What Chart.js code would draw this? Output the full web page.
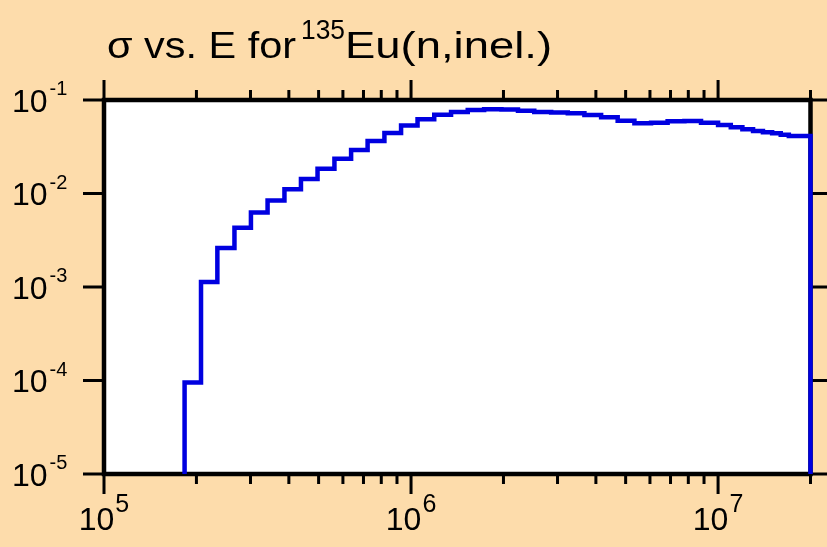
<!DOCTYPE html>
<html><head><meta charset="utf-8">
<script src="https://cdn.jsdelivr.net/npm/chart.js@4/dist/chart.umd.min.js"></script>
<style>
html,body{margin:0;padding:0;background:#fddcab;}
#wrap{width:827px;height:547px;position:relative;}
</style>
</head><body>
<div id="wrap"><canvas id="c" width="827" height="547"></canvas></div>
<script>
// ---- data ----
const energyEdges = [1.83e5, 2.07e5, 2.34e5, 2.66e5, 3.01e5, 3.41e5, 3.87e5, 4.38e5, 4.96e5, 5.63e5,
  6.38e5, 7.22e5, 8.19e5, 9.28e5, 1.05e6, 1.19e6, 1.35e6, 1.53e6, 1.73e6, 1.97e6,
  2.23e6, 2.52e6, 2.86e6, 3.24e6, 3.67e6, 4.16e6, 4.71e6, 5.34e6, 6.05e6, 6.85e6,
  7.77e6, 8.80e6, 1.0e7, 1.1e7, 1.2e7, 1.3e7, 1.4e7, 1.5e7, 1.6e7, 1.7e7, 2.0e7];
const crossSection = [9.5e-5, 1.13e-3, 2.62e-3, 4.29e-3, 6.27e-3, 8.44e-3, 1.11e-2, 1.43e-2, 1.84e-2, 2.35e-2,
  2.92e-2, 3.64e-2, 4.43e-2, 5.33e-2, 6.21e-2, 6.96e-2, 7.44e-2, 7.81e-2, 7.95e-2, 7.89e-2,
  7.66e-2, 7.44e-2, 7.36e-2, 7.20e-2, 6.91e-2, 6.53e-2, 6.00e-2, 5.63e-2, 5.71e-2, 5.91e-2,
  5.96e-2, 5.71e-2, 5.40e-2, 5.10e-2, 4.86e-2, 4.66e-2, 4.51e-2, 4.40e-2, 4.25e-2, 4.12e-2];
const xRange = [1e5, 2e7];
const yRange = [1e-5, 1e-1];
const xMajorTicks = [1e5, 1e6, 1e7];
const xMajorExponents = ['5', '6', '7'];
const xMinorTicks = [2e5, 3e5, 4e5, 5e5, 6e5, 7e5, 8e5, 9e5, 2e6, 3e6, 4e6, 5e6, 6e6, 7e6, 8e6, 9e6, 2e7];
const yMajorTicks = [1e-1, 1e-2, 1e-3, 1e-4, 1e-5];
const yMajorExponents = ['-1', '-2', '-3', '-4', '-5'];
const titleMain = 'σ vs. E for';
const titleSup = '135';
const titleRest = 'Eu(n,inel.)';

// ---- build step points ----
const points = [{x: energyEdges[0], y: yRange[0]}];
for (let i = 0; i < crossSection.length; i++) points.push({x: energyEdges[i], y: crossSection[i]});
points.push({x: energyEdges[energyEdges.length - 1], y: yRange[0]});

const BG = '#fddcab';
const FONT = '"Liberation Sans", Arial, Helvetica, sans-serif';

function fitText(ctx, text, x, y, font, width) {
  ctx.font = font;
  const w = ctx.measureText(text).width;
  ctx.save();
  ctx.translate(x, y);
  ctx.scale(width / w, 1);
  ctx.fillText(text, 0, 0);
  ctx.restore();
}

const decor = {
  id: 'decor',
  beforeDraw(chart) {
    const {ctx, chartArea: a} = chart;
    ctx.save();
    ctx.fillStyle = BG;
    ctx.fillRect(0, 0, chart.width, chart.height);
    ctx.fillStyle = '#ffffff';
    ctx.fillRect(a.left, a.top, a.right - a.left, a.bottom - a.top);
    ctx.restore();
  },
  beforeDatasetsDraw(chart) {
    const {ctx, chartArea: a, scales: {x, y}} = chart;
    ctx.save();
    ctx.strokeStyle = '#000';
    ctx.lineCap = 'butt';
    // ticks
    ctx.lineWidth = 3;
    ctx.beginPath();
    xMajorTicks.forEach(v => {
      const px = x.getPixelForValue(v);
      ctx.moveTo(px, a.bottom); ctx.lineTo(px, a.bottom + 20);
      ctx.moveTo(px, a.top); ctx.lineTo(px, a.top - 20);
    });
    xMinorTicks.forEach(v => {
      const px = x.getPixelForValue(v);
      ctx.moveTo(px, a.bottom); ctx.lineTo(px, a.bottom + 10);
      ctx.moveTo(px, a.top); ctx.lineTo(px, a.top - 10);
    });
    yMajorTicks.forEach(v => {
      const py = y.getPixelForValue(v);
      ctx.moveTo(a.left, py); ctx.lineTo(a.left - 21, py);
      ctx.moveTo(a.right, py); ctx.lineTo(a.right + 20, py);
    });
    ctx.stroke();
    // frame
    ctx.lineWidth = 4.5;
    ctx.strokeRect(a.left, a.top, a.right - a.left, a.bottom - a.top);

    // labels
    ctx.fillStyle = '#000';
    ctx.textBaseline = 'alphabetic';
    ctx.textAlign = 'left';
    const mainFont = '32px ' + FONT;
    // x labels
    xMajorTicks.forEach((v, i) => {
      const px = x.getPixelForValue(v);
      ctx.font = mainFont;
      const w1 = ctx.measureText('10').width;
      ctx.font = '25px ' + FONT;
      const w2 = ctx.measureText(xMajorExponents[i]).width;
      const x0 = px - (w1 + 1 + w2) / 2;
      ctx.font = mainFont;
      ctx.fillText('10', x0, a.bottom + 56);
      ctx.font = '25px ' + FONT;
      ctx.fillText(xMajorExponents[i], x0 + w1 + 1, a.bottom + 38);
    });
    // y labels
    yMajorTicks.forEach((v, i) => {
      const py = y.getPixelForValue(v);
      ctx.font = mainFont;
      const w1 = ctx.measureText('10').width;
      ctx.fillText('10', 12, py + 11.7);
      ctx.font = '20px ' + FONT;
      ctx.fillText(yMajorExponents[i], 12 + w1 + 2, py - 5);
    });
    // title
    fitText(ctx, titleMain, 107, 58, '37px ' + FONT, 189);
    fitText(ctx, titleSup, 301, 39, '27px ' + FONT, 44);
    fitText(ctx, titleRest, 345, 58, '37px ' + FONT, 207);
    ctx.restore();
  }
};

new Chart(document.getElementById('c'), {
  type: 'line',
  data: {
    datasets: [{
      data: points,
      stepped: 'before',
      borderColor: '#0000e0',
      borderWidth: 4.5,
      borderJoinStyle: 'miter',
      borderCapStyle: 'butt',
      pointRadius: 0,
      fill: false,
      clip: false,
      tension: 0
    }]
  },
  options: {
    responsive: false,
    animation: false,
    devicePixelRatio: 1,
    layout: {padding: {left: 104, right: 16.5, top: 100, bottom: 73}},
    plugins: {legend: {display: false}, title: {display: false}, tooltip: {enabled: false}},
    scales: {
      x: {type: 'logarithmic', min: xRange[0], max: xRange[1], display: false},
      y: {type: 'logarithmic', min: yRange[0], max: yRange[1], display: false}
    }
  },
  plugins: [decor]
});
</script>
</body></html>
